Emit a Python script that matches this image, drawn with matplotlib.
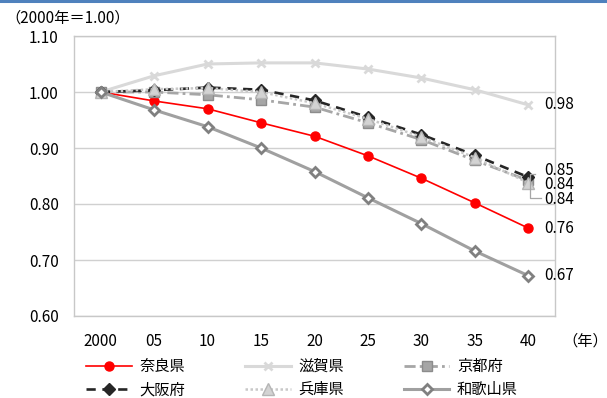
import numpy as np
import matplotlib
matplotlib.use("Agg")
import matplotlib.pyplot as plt
from matplotlib.lines import Line2D

plt.rcParams['font.family'] = ['Noto Sans CJK JP', 'DejaVu Sans']

# projected population index (2000 = 1.00)
years = ["2000", "05", "10", "15", "20", "25", "30", "35", "40"]
nara = [1.000, 0.984, 0.970, 0.945, 0.921, 0.886, 0.846, 0.802, 0.757]
shiga = [1.000, 1.029, 1.050, 1.052, 1.052, 1.041, 1.025, 1.004, 0.977]
kyoto = [1.000, 1.000, 0.995, 0.986, 0.973, 0.945, 0.915, 0.878, 0.842]
osaka = [1.000, 1.003, 1.008, 1.004, 0.985, 0.955, 0.924, 0.887, 0.848]
hyogo = [1.000, 1.005, 1.007, 1.000, 0.980, 0.952, 0.920, 0.883, 0.838]
wakayama = [1.000, 0.968, 0.938, 0.900, 0.858, 0.811, 0.765, 0.716, 0.672]
yticks = [0.60, 0.70, 0.80, 0.90, 1.00, 1.10]

W, H = 607, 398
fig = plt.figure(figsize=(W / 100, H / 100), dpi=100)
ax = fig.add_axes([74 / W, 1 - 316 / H, (555 - 74) / W, (316 - 36) / H])

x = np.arange(len(years))
FS = 11

styles = [
    ("奈良県", nara, dict(color="#FF0000", lw=1.2, marker="o", ms=6.5)),
    ("滋賀県", shiga, dict(color="#D9D9D9", lw=2.2, marker="x", ms=6, mew=2)),
    ("京都府", kyoto, dict(color="#A6A6A6", lw=2.0, ls=(0, (4, 1.5, 1, 1.5)),
                         marker="s", ms=7, mfc="#A6A6A6", mec="#8C8C8C")),
    ("大阪府", osaka, dict(color="#262626", lw=1.9, ls=(0, (3.5, 2.5)),
                         marker="D", ms=6)),
    ("兵庫県", hyogo, dict(color="#C8C8C8", lw=1.8, ls=(0, (1, 1)),
                         marker="^", ms=8, mfc="#D3D3D3", mec="#B5B5B5")),
    ("和歌山県", wakayama, dict(color="#A0A0A0", lw=2.2, marker="D", ms=5,
                            mfc="white", mec="#808080", mew=2)),
]

lines = {}
for name, vals, kw in styles:
    lines[name], = ax.plot(x, vals, label=name, **kw)

ax.set_xlim(-0.5, len(years) - 0.5)
ax.set_ylim(0.6, 1.1)
ax.set_yticks(yticks)
ax.set_yticklabels([f"{v:.2f}" for v in yticks], fontsize=FS)
ax.set_xticks(x)
ax.set_xticklabels(years, fontsize=FS)
ax.tick_params(axis="y", length=0, pad=11)
ax.tick_params(axis="x", length=0, pad=12)
ax.grid(axis="y", color="#D0D0D0", lw=1)
ax.set_axisbelow(True)
for sp in ax.spines.values():
    sp.set_color("#C8C8C8")
    sp.set_linewidth(1)

# end-of-line value labels (pixel offsets from the last point)
last = len(years) - 1
label_offsets = {"滋賀県": 0, "大阪府": 7, "兵庫県": -2, "京都府": -19,
                 "奈良県": 0, "和歌山県": 0}
for name, vals, kw in styles:
    ax.annotate(f"{vals[-1]:.2f}", (last, vals[-1]), xytext=(16, label_offsets[name]),
                textcoords="offset pixels", ha="left", va="center", fontsize=FS)

# leader bracket for the crowded labels
ax.plot([8.13, 8.04, 8.04, 8.24], [0.854, 0.854, 0.811, 0.811],
        color="#A6A6A6", lw=0.9, clip_on=False)

fig.text(5 / W, 1 - 18 / H, "（2000年＝1.00）", fontsize=FS, va="center", ha="left")
fig.text(562 / W, 1 - 341 / H, "（年）", fontsize=FS, va="center", ha="left")

# blue rule along the top edge
fig.add_artist(Line2D([0, 1], [1 - 1 / H, 1 - 1 / H], color="#4F81BD", lw=2.2,
                      transform=fig.transFigure))

order = ["奈良県", "大阪府", "滋賀県", "兵庫県", "京都府", "和歌山県"]
fig.legend([lines[n] for n in order], order, ncol=3, loc="upper left",
           bbox_to_anchor=(86 / W, 1 - 358 / H), frameon=False, fontsize=FS,
           borderpad=0, borderaxespad=0, handlelength=3.0, handletextpad=0.5,
           columnspacing=3.9, labelspacing=0.4)

fig.savefig("out.png", dpi=100)
